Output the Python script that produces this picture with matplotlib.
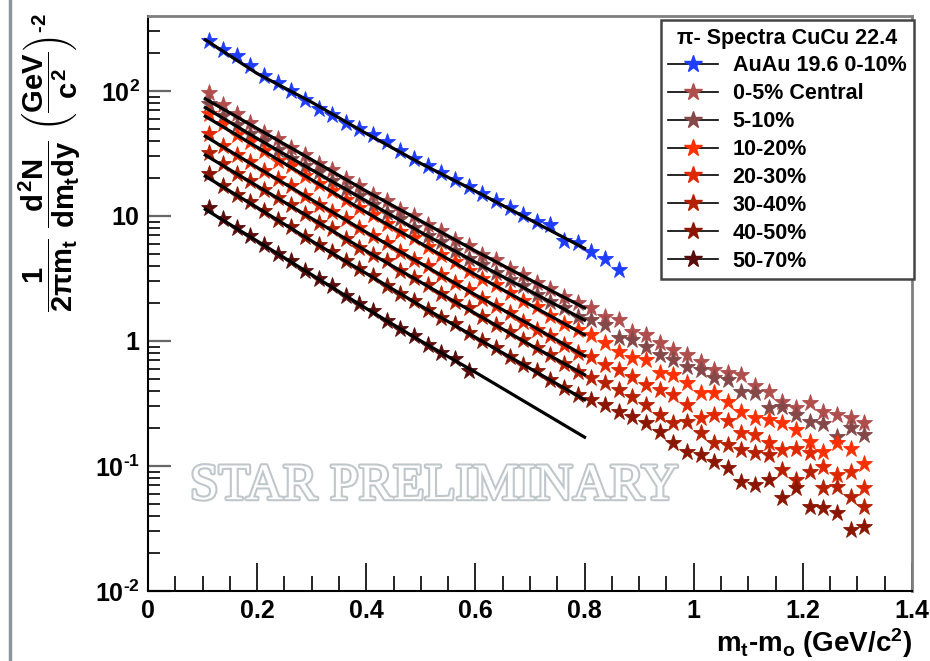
import matplotlib.pyplot as plt
import matplotlib.patheffects as pe
from matplotlib.lines import Line2D
from matplotlib.ticker import FixedLocator, LogLocator, MultipleLocator, NullFormatter, FuncFormatter

# mt - m0 bin centres (GeV/c^2)
mt = [0.1125, 0.1375, 0.1625, 0.1875, 0.2125, 0.2375, 0.2625, 0.2875, 0.3125, 0.3375,
      0.3625, 0.3875, 0.4125, 0.4375, 0.4625, 0.4875, 0.5125, 0.5375, 0.5625, 0.5875,
      0.6125, 0.6375, 0.6625, 0.6875, 0.7125, 0.7375, 0.7625, 0.7875, 0.8125, 0.8375,
      0.8625, 0.8875, 0.9125, 0.9375, 0.9625, 0.9875, 1.0125, 1.0375, 1.0625, 1.0875,
      1.1125, 1.1375, 1.1625, 1.1875, 1.2125, 1.2375, 1.2625, 1.2875, 1.3125]
fit_mt = [0.105, 0.2, 0.3, 0.4, 0.5, 0.6, 0.7, 0.8]

auau = [251, 214, 191, 158, 132, 115, 100, 85.1, 72.4, 64.6, 55.6, 50.1, 44.2, 38.9, 33.1,
        28.8, 25.1, 22.1, 19.5, 17.2, 15.1, 13.3, 11.5, 10.2, 8.91, 8.51, 6.31, 6.03, 5.13,
        4.52, 3.72]
cen0_5 = [95.5, 76.9, 65.2, 55.1, 46.1, 41.3, 35.0, 31.0, 26.2, 23.2, 19.7, 17.4, 14.8, 13.2,
          11.2, 10.0, 8.51, 7.59, 6.46, 5.75, 4.91, 4.41, 3.77, 3.38, 2.90, 2.60, 2.23, 2.00,
          1.82, 1.57, 1.47, 1.19, 1.12, 0.957, 0.847, 0.773, 0.684, 0.586, 0.558, 0.535, 0.437,
          0.394, 0.327, 0.289, 0.317, 0.272, 0.256, 0.240, 0.219]
cen5_10 = [79.1, 63.5, 53.5, 45.0, 39.7, 33.6, 28.4, 25.2, 22.3, 18.9, 16.4, 14.5, 12.3, 10.6,
           9.42, 7.96, 6.92, 6.17, 5.25, 4.57, 4.08, 3.50, 3.06, 2.75, 2.35, 2.06, 1.84, 1.57,
           1.47, 1.34, 1.05, 1.02, 0.902, 0.773, 0.705, 0.624, 0.586, 0.502, 0.488, 0.394, 0.381,
           0.289, 0.298, 0.256, 0.226, 0.217, 0.172, 0.200, 0.177]
cen10_20 = [65.7, 54.0, 44.4, 39.1, 32.9, 27.7, 25.0, 21.0, 18.1, 15.9, 13.4, 11.5, 10.2, 8.63,
            7.48, 6.62, 5.61, 4.85, 4.31, 3.64, 3.16, 2.82, 2.40, 2.09, 1.86, 1.58, 1.38, 1.23,
            1.12, 0.957, 0.822, 0.727, 0.705, 0.551, 0.535, 0.458, 0.381, 0.386, 0.327, 0.272,
            0.240, 0.233, 0.219, 0.194, 0.157, 0.130, 0.154, 0.138, 0.104]
cen20_30 = [45.4, 36.5, 30.7, 27.1, 22.8, 19.6, 17.3, 14.5, 12.2, 10.8, 9.49, 7.99, 6.90, 6.11,
            5.18, 4.48, 3.97, 3.36, 2.91, 2.58, 2.18, 1.89, 1.68, 1.42, 1.23, 1.09, 0.927, 0.804,
            0.750, 0.643, 0.586, 0.519, 0.445, 0.406, 0.370, 0.308, 0.240, 0.256, 0.231, 0.182,
            0.177, 0.152, 0.134, 0.138, 0.126, 0.099, 0.0848, 0.0901, 0.0662]
cen30_40 = [32.2, 25.9, 21.8, 19.2, 16.1, 13.9, 12.2, 10.3, 8.86, 7.81, 6.57, 5.53, 4.89, 4.33,
            3.66, 3.17, 2.81, 2.38, 2.06, 1.82, 1.55, 1.34, 1.19, 1.01, 0.873, 0.774, 0.656, 0.569,
            0.502, 0.458, 0.406, 0.359, 0.308, 0.256, 0.219, 0.226, 0.182, 0.152, 0.147, 0.134,
            0.126, 0.122, 0.0929, 0.0773, 0.0901, 0.0662, 0.0684, 0.0569, 0.0473]
cen40_50 = [21.8, 17.5, 14.7, 13.0, 10.9, 9.31, 8.15, 6.82, 5.85, 5.16, 4.34, 3.74, 3.29, 2.77,
            2.39, 2.10, 1.77, 1.54, 1.36, 1.15, 0.997, 0.884, 0.748, 0.647, 0.574, 0.486, 0.420,
            0.373, 0.337, 0.308, 0.272, 0.248, 0.219, 0.188, 0.152, 0.130, 0.122, 0.108, 0.0958,
            0.0750, 0.0705, 0.0773, 0.0551, 0.0662, 0.0473, 0.0458, 0.0418, 0.0308, 0.0327]
cen50_70 = [11.6, 9.52, 7.97, 6.98, 5.84, 5.00, 4.38, 3.66, 3.14, 2.75, 2.30, 1.97, 1.73, 1.45,
            1.25, 1.10, 0.930, 0.806, 0.714, 0.58]

# fit curves
fit_auau = [257, 138, 81.3, 45.7, 26.3, 15.8, 9.33, 5.50]
fit_0_5 = [86.6, 50.1, 28.2, 15.8, 9.12, 5.25, 3.09, 1.84]
fit_5_10 = [73.6, 41.7, 23.4, 13.2, 7.41, 4.27, 2.51, 1.47]
fit_10_20 = [62.7, 35.5, 19.5, 10.7, 6.03, 3.39, 1.95, 1.12]
fit_20_30 = [43.4, 24.5, 13.5, 7.41, 4.17, 2.34, 1.35, 0.759]
fit_30_40 = [30.7, 17.4, 9.55, 5.25, 2.95, 1.66, 0.933, 0.537]
fit_40_50 = [20.8, 11.7, 6.31, 3.47, 1.91, 1.07, 0.603, 0.339]
fit_50_70 = [11.3, 6.31, 3.39, 1.82, 1.0, 0.562, 0.309, 0.170]

labels = ['AuAu 19.6 0-10%', '0-5% Central', '5-10%', '10-20%', '20-30%', '30-40%',
          '40-50%', '50-70%']
colors = ['#1f3dff', '#b04e4e', '#844848', '#ff3000', '#e02800', '#b52000', '#8a1600', '#5a0c0c']
spectra = [auau, cen0_5, cen5_10, cen10_20, cen20_30, cen30_40, cen40_50, cen50_70]
fits = [fit_auau, fit_0_5, fit_5_10, fit_10_20, fit_20_30, fit_30_40, fit_40_50, fit_50_70]

plt.rcParams['font.family'] = ['Liberation Sans', 'DejaVu Sans']
plt.rcParams['font.weight'] = 'bold'
plt.rcParams['mathtext.fontset'] = 'custom'
plt.rcParams['mathtext.rm'] = 'Liberation Sans:bold'
plt.rcParams['mathtext.it'] = 'Liberation Sans:bold'
plt.rcParams['mathtext.bf'] = 'Liberation Sans:bold'
plt.rcParams['mathtext.sf'] = 'Liberation Sans:bold'

fig = plt.figure(figsize=(9.3, 6.61), dpi=100)
ax = fig.add_axes([148 / 930, 1 - 591 / 661, 764 / 930, 575 / 661])

for y, c in zip(spectra, colors):
    ax.plot(mt[:len(y)], y, ls='none', marker='*', ms=12.5, color=c, mec=c, mew=0.6, zorder=2)
for f in fits:
    ax.plot(fit_mt, f, color='black', lw=2.3, zorder=3)

ax.set_yscale('log')
ax.set_xlim(0, 1.4)
ax.set_ylim(0.01, 398)

ax.xaxis.set_major_locator(MultipleLocator(0.2))
ax.xaxis.set_minor_locator(MultipleLocator(0.05))
ax.xaxis.set_major_formatter(FuncFormatter(lambda v, p: f'{v:g}'))
ax.yaxis.set_major_locator(FixedLocator([0.01, 0.1, 1, 10, 100]))
ax.set_yticklabels([r'$10^{\text{-}2}$', r'$10^{\text{-}1}$', '1', '10', '$10^{2}$'])
ax.yaxis.set_minor_locator(LogLocator(base=10, subs=range(2, 10), numticks=20))
ax.yaxis.set_minor_formatter(NullFormatter())

ax.tick_params(axis='both', which='both', direction='in', top=False, right=False,
               labelsize=18, pad=6)
ax.tick_params(axis='x', which='major', length=20, width=1.2)
ax.tick_params(axis='x', which='minor', length=11, width=1.2)
ax.tick_params(axis='y', which='major', length=16.5, width=1.6, color='#666666')
ax.tick_params(axis='y', which='minor', length=8.5, width=1.2)

for s in ['left', 'bottom']:
    ax.spines[s].set_linewidth(1.5)
for s in ['top', 'right']:
    ax.spines[s].set_color('#7f7f7f')
    ax.spines[s].set_linewidth(2)

handles = [Line2D([], [], color='black', lw=1.2, marker='*', ms=13, mfc=c, mec=c)
           for c in colors]
leg = ax.legend(handles, labels, title='π- Spectra CuCu 22.4', loc='upper right',
                bbox_to_anchor=(914 / 930, 1 - 20 / 661), bbox_transform=fig.transFigure,
                fancybox=False, edgecolor='#444444', framealpha=1, borderaxespad=0,
                prop={'size': 15.5, 'weight': 'bold'},
                title_fontproperties={'size': 15.5, 'weight': 'bold'},
                handlelength=2.3, handletextpad=0.7, labelspacing=0.32, borderpad=0.35)
leg.get_frame().set_linewidth(1.8)
leg.set_zorder(5)

fig.text(50 / 930, 1 - 163 / 661,
         r'$\dfrac{1}{2\pi m_{t}}\ \dfrac{d^{2}N}{dm_{t}dy}\ \left(\dfrac{GeV}{c^{2}}\right)^{\text{-}2}$',
         rotation=90, ha='center', va='center', fontsize=21)
fig.text(912 / 930, 1 - 643 / 661, r'm$_{t}$-m$_{o}$ (GeV/c$^{2}$)',
         ha='right', va='center', fontsize=20)

ax.text(0.055, 0.181, 'STAR PRELIMINARY', transform=ax.transAxes, fontsize=37,
        family='Liberation Serif', fontweight='normal', color='white', ha='left', va='center',
        path_effects=[pe.withStroke(linewidth=3, foreground='#bfc7cb')], zorder=1)

fig.add_artist(Line2D([10 / 930, 10 / 930], [0, 1], color='#8c949c', lw=2.5,
                      transform=fig.transFigure))

fig.savefig('out.png', dpi=100)
